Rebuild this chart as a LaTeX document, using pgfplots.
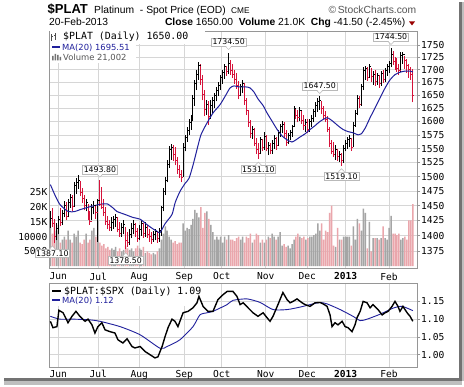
\documentclass[border=0pt]{standalone}
\usepackage{pgfplots}
\pgfplotsset{compat=1.18}
\usepackage{pgfplotstable}
\usepackage{fontspec}
\setmainfont{DejaVu Sans}
\newfontfamily\arialf{Liberation Sans}
\newfontfamily\monof{DejaVu Sans Mono}
\definecolor{dnred}{RGB}{214,18,58}
\definecolor{vgray}{RGB}{165,165,165}
\definecolor{vpink}{RGB}{234,166,172}
\definecolor{mablue}{RGB}{32,32,156}
\definecolor{gridc}{RGB}{214,214,214}
\definecolor{framec}{RGB}{150,150,150}
\definecolor{lblc}{RGB}{185,185,185}
\definecolor{txtgray}{RGB}{85,85,85}

\pgfplotsset{
  upd/.style={restrict expr to domain={\thisrow{d}}{-0.5:0.5}},
  dnd/.style={restrict expr to domain={\thisrow{d}}{0.5:1.5}},
  tickfont/.style={font=\fontsize{9.6}{10}\monof},
  panelA/.style={scale only axis, width=368pt, height=237pt, at={(49pt,119pt)}, anchor=south west, xmin=-0.7, xmax=185.1},
  panelB/.style={scale only axis, width=368pt, height=84pt, at={(49pt,20pt)}, anchor=south west, xmin=-0.7, xmax=185.1, ymin=0.9654, ymax=1.2018},
  months/.style={xtick={4,24.2,44.9,67.6,86.5,108.7,129.7,149.1,171}, xticklabels={Jun,Jul,Aug,Sep,Oct,Nov,Dec,\textbf{2013},Feb}},
  pticks/.style={ytick={1375,1400,1425,1450,1475,1500,1525,1550,1575,1600,1625,1650,1675,1700,1725,1750}},
  rticks/.style={ytick={1.00,1.05,1.10,1.15}},
  tickonly/.style={axis line style={draw=none}, xtick=\empty, yticklabels={}, ytick pos=right, tick align=outside, major tick length=3pt, tick style={framec, line width=0.5pt}},
}
\tikzset{lbl/.style={draw=lblc, fill=white, inner sep=1.2pt, line width=0.5pt, font=\fontsize{7.8}{8}\selectfont}}
\pgfdeclareplotmark{ctick}{\pgfpathmoveto{\pgfqpoint{0pt}{0pt}}\pgfpathlineto{\pgfqpoint{1.6pt}{0pt}}\pgfusepathqstroke}
% pointer notches of the value labels (above / below the bar)
\newcommand\hip[3]{\fill[white] ([xshift=-2.6pt,yshift=#3pt+0.6pt]axis cs:#1,#2) -- ([yshift=#3pt-2.8pt]axis cs:#1,#2) -- ([xshift=2.6pt,yshift=#3pt+0.6pt]axis cs:#1,#2) -- cycle;
 \draw[lblc, line width=0.5pt] ([xshift=-3pt,yshift=#3pt]axis cs:#1,#2) -- ([yshift=#3pt-3pt]axis cs:#1,#2) -- ([xshift=3pt,yshift=#3pt]axis cs:#1,#2);}
\newcommand\lop[3]{\fill[white] ([xshift=-2.6pt,yshift=-#3pt-0.6pt]axis cs:#1,#2) -- ([yshift=-#3pt+2.8pt]axis cs:#1,#2) -- ([xshift=2.6pt,yshift=-#3pt-0.6pt]axis cs:#1,#2) -- cycle;
 \draw[lblc, line width=0.5pt] ([xshift=-3pt,yshift=-#3pt]axis cs:#1,#2) -- ([yshift=-#3pt+3pt]axis cs:#1,#2) -- ([xshift=3pt,yshift=-#3pt]axis cs:#1,#2);}

\pgfplotstableread{
i h l c d v
0 1440 1412 1428 0 13
1 1446 1414 1420 1 11
2 1428 1387.1 1398 1 15
3 1420 1392 1412 0 12
4 1432 1402 1426 0 14
5 1445 1415 1422 1 8
6 1442 1418 1436 0 9
7 1458 1430 1450 0 10
8 1456 1425 1432 1 9
9 1462 1430 1455 0 12
10 1470 1446 1464 0 9
11 1468 1440 1448 1 8
12 1490 1448 1484 0 11
13 1498 1470 1490 0 10
14 1502 1478 1494 0 12
15 1492 1466 1472 1 8
16 1480 1455 1462 1 7.5
17 1468 1442 1450 1 9
18 1462 1440 1455 0 11
19 1452 1426 1432 1 8
20 1440 1418 1424 1 9
21 1452 1425 1446 0 12
22 1458 1435 1450 0 13
23 1450 1428 1438 1 10
24 1462 1390 1458 0 15.5
25 1493.8 1450 1452 1 8
26 1482 1444 1446 1 7
27 1462 1432 1438 1 7.5
28 1448 1418 1424 1 6
29 1432 1410 1418 1 6.5
30 1425 1408 1414 1 5.5
31 1430 1408 1422 0 6
32 1432 1410 1426 0 5.5
33 1436 1414 1430 0 6.5
34 1430 1405 1410 1 5
35 1422 1398 1404 1 6
36 1420 1398 1414 0 5
37 1425 1402 1418 0 5.5
38 1414 1378.5 1392 1 7
39 1405 1382 1388 1 6
40 1410 1384 1402 0 5.5
41 1420 1396 1412 0 6
42 1425 1402 1418 0 5
43 1420 1398 1406 1 6
44 1412 1390 1396 1 7
45 1418 1392 1410 0 6
46 1425 1400 1420 0 5.5
47 1420 1396 1404 1 6.5
48 1422 1398 1414 0 4.5
49 1418 1396 1402 1 5
50 1410 1390 1398 1 4.5
51 1406 1386 1394 1 4
52 1408 1390 1402 0 4.5
53 1410 1392 1406 0 4
54 1408 1388 1396 1 5
55 1412 1390 1408 0 6
56 1450 1400 1446 0 9
57 1480 1440 1474 0 11
58 1500 1468 1494 0 13.5
59 1530 1490 1522 0 12
60 1555 1515 1548 0 10
61 1558 1530 1552 0 9
62 1557 1528 1540 1 8
63 1552 1520 1528 1 8.5
64 1535 1505 1512 1 7.5
65 1520 1498 1504 1 8
66 1512 1490 1498 1 8
67 1560 1500 1552 0 14.5
68 1575 1545 1570 0 12
69 1590 1562 1584 0 13
70 1605 1575 1598 0 12.5
71 1612 1585 1606 0 14
72 1650 1600 1644 0 16
73 1680 1630 1672 0 19
74 1700 1660 1690 0 18
75 1715 1680 1708 0 16.5
76 1712 1670 1680 1 20
77 1690 1640 1652 1 13
78 1660 1610 1622 1 18
79 1640 1612 1632 0 18.5
80 1638 1594 1610 1 16
81 1640 1605 1630 0 14
82 1646 1615 1640 0 11.5
83 1655 1625 1650 0 9
84 1665 1638 1660 0 10
85 1675 1648 1668 0 9
86 1690 1660 1684 0 10
87 1700 1672 1694 0 8
88 1712 1682 1706 0 10
89 1708 1688 1696 1 9
90 1734.5 1692 1712 0 10.5
91 1720 1690 1698 1 9
92 1712 1684 1690 1 9
93 1700 1672 1680 1 8.5
94 1694 1662 1668 1 9.5
95 1678 1642 1650 1 10
96 1672 1648 1666 0 9
97 1680 1654 1672 0 10
98 1674 1632 1640 1 8
99 1645 1612 1620 1 10
100 1622 1590 1598 1 9.5
101 1602 1570 1578 1 11
102 1592 1568 1586 0 8
103 1588 1555 1560 1 9
104 1570 1540 1548 1 11
105 1560 1531.1 1542 1 10.5
106 1572 1540 1566 0 8
107 1568 1545 1552 1 9
108 1580 1548 1572 0 8
109 1575 1545 1550 1 9
110 1562 1538 1556 0 10
111 1560 1540 1546 1 9.5
112 1566 1540 1560 0 11
113 1575 1550 1568 0 10
114 1572 1548 1555 1 9
115 1585 1555 1580 0 10
116 1596 1572 1590 0 11.5
117 1600 1578 1594 0 7
118 1598 1570 1578 1 7.5
119 1585 1555 1562 1 6.5
120 1578 1558 1574 0 7
121 1585 1565 1580 0 6
122 1594 1572 1590 0 7.5
123 1630 1590 1624 0 9
124 1625 1604 1612 1 10
125 1622 1598 1608 1 11
126 1628 1600 1620 0 10
127 1622 1596 1602 1 9.5
128 1612 1585 1592 1 10
129 1605 1580 1598 0 9
130 1604 1578 1586 1 9.5
131 1605 1580 1600 0 10
132 1612 1590 1606 0 10
133 1624 1598 1618 0 10.5
134 1636 1608 1630 0 11
135 1644 1618 1638 0 14.5
136 1647.5 1622 1640 0 12
137 1638 1614 1624 1 14.5
138 1630 1605 1612 1 9
139 1620 1598 1604 1 12
140 1610 1580 1586 1 11.5
141 1590 1552 1560 1 18
142 1566 1540 1545 1 20.5
143 1562 1535 1540 1 7
144 1556 1530 1548 0 6.5
145 1550 1528 1536 1 13
146 1546 1526 1540 0 9
147 1542 1519.1 1528 1 9
148 1556 1524 1550 0 10
149 1566 1545 1560 0 10
150 1572 1550 1566 0 10
151 1574 1552 1568 0 10
152 1570 1546 1552 1 7
153 1598 1552 1592 0 13.5
154 1622 1590 1616 0 9
155 1650 1612 1644 0 16
156 1648 1626 1632 1 14.5
157 1672 1630 1666 0 12
158 1705 1660 1698 0 19.5
159 1708 1680 1702 0 18
160 1706 1678 1684 1 6
161 1712 1684 1706 0 15
162 1704 1676 1686 1 5
163 1698 1670 1690 0 9.5
164 1700 1668 1676 1 9.5
165 1694 1670 1688 0 9.5
166 1690 1664 1672 1 9
167 1698 1668 1692 0 9.5
168 1700 1674 1680 1 13.5
169 1704 1676 1698 0 9.5
170 1712 1688 1706 0 9
171 1718 1694 1712 0 13
172 1744.5 1705 1730 0 17
173 1738 1710 1716 1 11
174 1726 1700 1706 1 11
175 1724 1696 1702 1 10.5
176 1712 1690 1698 1 11
177 1735 1696 1728 0 9
178 1736 1712 1730 0 9.5
179 1728 1702 1718 1 10
180 1722 1694 1708 1 9
181 1712 1684 1700 1 15.5
182 1706 1680 1691.5 1 15.5
183 1702 1636 1650 1 21
}\ohlc

\pgfplotstableread{
i m
0 1486
2.3 1468
4.8 1452
8.9 1440
12.4 1440
14.9 1443
20 1448
25 1452
28.6 1453
31.6 1446
33.6 1440
37.7 1435
41.7 1430
45.3 1427
48.8 1418
51.3 1412
53.8 1407
55.4 1405
58 1420
61.4 1435
63 1455
65.4 1474
68 1488
70 1497
72 1520
74 1548
76 1575
78.6 1594
82.1 1616
85.7 1632
88.7 1651
90.7 1664
92.7 1668
95.2 1666
98.8 1666
100.8 1664
102.8 1656
104.8 1643
107.4 1630
109.4 1616
112 1600
114.5 1585
117 1573
119.5 1566
122 1562
124 1566
126 1571
128.6 1577
131.1 1585
133.6 1592
136.1 1600
139.7 1607
142.7 1600
145.2 1592
147.8 1585
150.3 1581
152.8 1579
155.4 1575
157 1577
159 1588
161.4 1607
164 1626
166.5 1645
169 1664
171.5 1680
174 1690
176.6 1695
179 1697
181.6 1697
183 1695.5
}\pma

\pgfplotstableread{
i r
0 1.094
1.3 1.076
3.3 1.079
4.3 1.125
6.4 1.118
8.9 1.090
10.9 1.108
12.9 1.122
14.9 1.108
17.5 1.094
19 1.100
21 1.084
22.5 1.061
24 1.079
26 1.090
27.6 1.070
30 1.065
32.6 1.061
34.1 1.042
36.6 1.033
38.7 1.045
41.2 1.023
42.7 1.019
45.3 1.023
47.8 1.009
50.3 1.000
52.8 0.991
54.3 0.994
56.4 1.023
57.9 1.051
59.4 1.076
61.4 1.100
62.9 1.094
64.4 1.079
67 1.118
69.5 1.122
72 1.132
74 1.146
75 1.164
77.1 1.136
79.6 1.122
82.1 1.122
84.6 1.155
87.2 1.169
89.2 1.178
92.2 1.178
94.2 1.164
95.8 1.141
97.3 1.146
99.8 1.132
102.3 1.118
104.8 1.108
107.4 1.118
109.4 1.104
110.9 1.094
112.4 1.108
114.9 1.141
117.4 1.175
119.5 1.155
121 1.146
122.5 1.150
124.5 1.157
127.1 1.146
128.6 1.141
131.1 1.136
133.6 1.146
136.1 1.147
137.7 1.143
139.7 1.136
141.2 1.112
142.2 1.079
143.7 1.090
145.2 1.084
147.3 1.094
148.8 1.079
150.3 1.076
152.3 1.065
153.8 1.084
154.8 1.104
156.4 1.122
157.9 1.150
159.9 1.146
161.4 1.132
162.9 1.141
165.4 1.127
167.5 1.112
169 1.118
170.5 1.122
172.5 1.136
174 1.150
175.5 1.136
176.5 1.122
178 1.136
180.1 1.118
181.6 1.108
183 1.094
}\ratio

\pgfplotstableread{
i m
0 1.108
4.8 1.100
12 1.100
20 1.098
25 1.094
35.2 1.079
45.3 1.056
55.4 1.018
58.9 1.023
65.4 1.042
72 1.079
75.5 1.112
79.1 1.118
82.1 1.122
89.2 1.141
92.2 1.153
99.3 1.157
105.9 1.147
112.4 1.127
119.5 1.127
126.1 1.134
132.6 1.143
136.1 1.147
139.7 1.143
146.3 1.127
152.8 1.108
156.4 1.096
159.9 1.100
166.5 1.114
173 1.131
177.6 1.136
183 1.124
}\rma

\begin{document}
\begin{tikzpicture}
\path[use as bounding box] (0,0) rectangle (464pt,387pt);
\fill[white] (0,0) rectangle (464pt,387pt);
% drop shadow
\fill[black!55] (459pt,6pt) rectangle (461.5pt,385pt);
\fill[black!25] (461.5pt,6pt) rectangle (464pt,385pt);
\fill[black!55] (4pt,6pt) rectangle (461.5pt,9pt);
\fill[black!25] (4pt,2pt) rectangle (461.5pt,6pt);

% ---- axis 1: price grid, frame, labels
\begin{axis}[panelA, months, pticks, ymode=log, ymin=1347.9, ymax=1778.9,
  yticklabels={1375,1400,1425,1450,1475,1500,1525,1550,1575,1600,1625,1650,1675,1700,1725,1750},
  ytick pos=right, xtick pos=bottom, major tick length=0pt,
  grid=major, major grid style={draw=gridc, line width=0.5pt},
  axis line style={framec, line width=0.6pt},
  xticklabel style={tickfont, anchor=north, inner sep=0pt, yshift=-4.7pt},
  yticklabel style={tickfont, anchor=west, inner sep=0pt, xshift=4pt}]
\addplot[draw=none] coordinates {(0,1500)};
\end{axis}
% legend backgrounds (hide the grid only)
\fill[white] (49.8pt,343pt) rectangle (205pt,355.5pt);
\fill[white] (49.8pt,324pt) rectangle (136pt,343pt);
\begin{axis}[panelA, pticks, ymode=log, ymin=1347.9, ymax=1778.9, tickonly]
\addplot[draw=none] coordinates {(0,1500)};
\end{axis}

% ---- axis 2: volume
\begin{axis}[panelA, ymin=-0.6, ymax=79.5, axis line style={draw=none},
  xtick=\empty, ytick={5,10,15,20,25}, yticklabels={5000,10000,15K,20K,25K},
  ytick pos=left, major tick length=0pt,
  yticklabel style={tickfont, anchor=east, inner sep=0pt, xshift=-1.5pt}]
\addplot[ybar, bar width=1.5pt, fill=vgray, draw=none, upd] table[x=i,y=v]{\ohlc};
\addplot[ybar, bar width=1.5pt, fill=vpink, draw=none, dnd] table[x=i,y=v]{\ohlc};
\end{axis}

% ---- axis 3: price bars
\begin{axis}[panelA, ymode=log, ymin=1347.9, ymax=1778.9, hide axis, clip=false]
\addplot[draw=none, mark=none, upd,
  error bars/.cd, y dir=plus, y explicit, error mark=none,
  error bar style={draw=black, line width=1pt}]
  table[x=i, y=l, y error expr=\thisrow{h}-\thisrow{l}] {\ohlc};
\addplot[draw=none, mark=none, dnd,
  error bars/.cd, y dir=plus, y explicit, error mark=none,
  error bar style={draw=dnred, line width=1pt}]
  table[x=i, y=l, y error expr=\thisrow{h}-\thisrow{l}] {\ohlc};
\addplot[only marks, mark=ctick, mark options={draw=black, line width=0.9pt}, upd] table[x=i,y=c]{\ohlc};
\addplot[only marks, mark=ctick, mark options={draw=dnred, line width=0.9pt}, dnd] table[x=i,y=c]{\ohlc};
\addplot[mablue, line width=1pt, smooth, tension=0.4] table[x=i,y=m]{\pma};
% value labels
\node[lbl, anchor=south] at ([yshift=6pt]axis cs:90,1734.5) {1734.50};
\node[lbl, anchor=south] at ([yshift=6pt]axis cs:172,1744.5) {1744.50};
\node[lbl, anchor=south] at ([yshift=6pt]axis cs:25,1493.8) {1493.80};
\node[lbl, anchor=south] at ([yshift=6pt]axis cs:136,1647.5) {1647.50};
\node[lbl, anchor=north] at ([yshift=-6pt]axis cs:105,1531.1) {1531.10};
\node[lbl, anchor=north] at ([yshift=-6pt]axis cs:147,1519.1) {1519.10};
\node[lbl, anchor=north] at ([yshift=-5.5pt]axis cs:1,1387.1) {1387.10};
\node[lbl, anchor=north] at ([yshift=-7pt]axis cs:38,1378.5) {1378.50};
\hip{90}{1734.5}{6}
\hip{172}{1744.5}{6}
\hip{25}{1493.8}{6}
\hip{136}{1647.5}{6}
\lop{105}{1531.1}{6}
\lop{147}{1519.1}{6}
\lop{1}{1387.1}{5.5}
\lop{38}{1378.5}{7}
\end{axis}

% ---- lower panel
\begin{axis}[panelB, months, rticks, yticklabels={1.00,1.05,1.10,1.15},
  ytick pos=right, xtick pos=bottom, major tick length=0pt,
  grid=major, major grid style={draw=gridc, line width=0.5pt},
  axis line style={framec, line width=0.6pt},
  xticklabel style={tickfont, anchor=north, inner sep=0pt, yshift=-3.4pt},
  yticklabel style={tickfont, anchor=west, inner sep=0pt, xshift=4pt}]
\addplot[draw=none] coordinates {(0,1.1)};
\end{axis}
\fill[white] (49.8pt,81pt) rectangle (201pt,103.2pt);
\begin{axis}[panelB, rticks, tickonly]
\addplot[mablue, line width=0.9pt, smooth, tension=0.4] table[x=i,y=m]{\rma};
\addplot[black, line width=1.4pt] table[x=i,y=r]{\ratio};
\end{axis}

% ---- legends
\node[anchor=base west, inner sep=0pt, font=\fontsize{9.9}{10}\monof] at (63pt,347pt) {\$PLAT (Daily) 1650.00};
\draw[black!70, line width=0.8pt] (51.5pt,346pt) -- (51.5pt,353pt) (51.5pt,351pt) -- (53pt,351pt) (55.5pt,347pt) -- (55.5pt,354pt) (54pt,352pt) -- (55.5pt,352pt);
\draw[mablue, line width=2pt] (52pt,339.5pt) -- (60pt,339.5pt);
\node[anchor=base west, inner sep=0pt, text=mablue, font=\fontsize{8.4}{9}\selectfont] at (62pt,336.3pt) {MA(20) 1695.51};
\fill[black!55] (52pt,326.5pt) rectangle (53.5pt,331pt) (54.5pt,326.5pt) rectangle (56pt,333pt) (57pt,326.5pt) rectangle (58.5pt,332pt) (59.5pt,326.5pt) rectangle (61pt,330pt);
\node[anchor=base west, inner sep=0pt, text=txtgray, font=\fontsize{8.4}{9}\selectfont] at (63pt,326.3pt) {Volume 21,002};

\draw[black, line width=2pt] (52pt,96pt) -- (61pt,96pt);
\node[anchor=base west, inner sep=0pt, font=\fontsize{9.9}{10}\monof] at (64pt,92pt) {\$PLAT:\$SPX (Daily) 1.09};
\draw[mablue, line width=2pt] (52pt,87pt) -- (60pt,87pt);
\node[anchor=base west, inner sep=0pt, text=mablue, font=\fontsize{8.4}{9}\selectfont] at (62pt,83pt) {MA(20) 1.12};

% ---- header
\node[anchor=base west, inner sep=0pt, font=\fontsize{13}{14}\arialf\bfseries] at (47.5pt,373pt) {\$PLAT};
\node[anchor=base west, inner sep=0pt, font=\fontsize{10.3}{12}\arialf] at (94pt,373.5pt) {Platinum \ - Spot Price (EOD)};
\node[anchor=base west, inner sep=0pt, font=\fontsize{8.3}{10}\arialf] at (231pt,373.5pt) {CME};
\node[anchor=base east, inner sep=0pt, text=txtgray, font=\fontsize{10.3}{12}\arialf] at (416.5pt,373.5pt) {©\,StockCharts.com};
\node[anchor=base west, inner sep=0pt, font=\fontsize{10.3}{12}\arialf] at (49pt,361pt) {20-Feb-2013};
\node[anchor=base east, inner sep=0pt, font=\fontsize{10.3}{12}\arialf] at (405.5pt,361pt) {\textbf{Close} 1650.00 \ \textbf{Volume} 21.0K \ \textbf{Chg} -41.50 (-2.45\%)};
\fill[black!20!red!75!black] (409pt,365.5pt) -- (415pt,365.5pt) -- (412pt,361.5pt) -- cycle;
\end{tikzpicture}
\end{document}
